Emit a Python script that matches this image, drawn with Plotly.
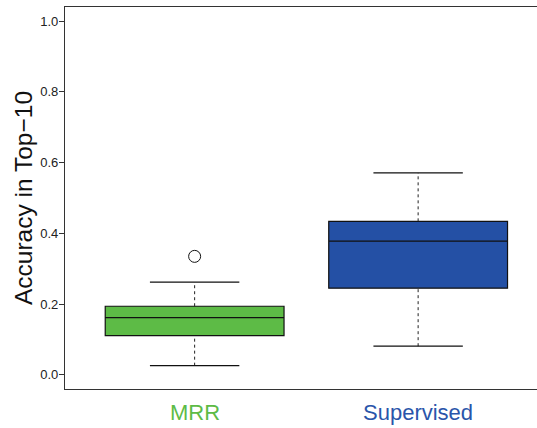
import plotly.graph_objects as go

categories = ["MRR", "Supervised"]
q1 = [0.111, 0.245]
median = [0.162, 0.378]
q3 = [0.194, 0.434]
lower_whisker = [0.026, 0.081]
upper_whisker = [0.262, 0.571]
outliers = [[0.335], []]
fill_colors = ["#5dbb46", "#2450a5"]
label_colors = ["#5dbb46", "#2a55aa"]
y_ticks = [0.0, 0.2, 0.4, 0.6, 0.8, 1.0]

fig = go.Figure()
xs = [1, 2]
box_w = 0.8
cap_w = 0.4

for i, name in enumerate(categories):
    x = xs[i]
    # box (quartiles only; whiskers drawn separately as dotted lines)
    fig.add_trace(go.Box(
        x=[x], q1=[q1[i]], median=[median[i]], q3=[q3[i]],
        lowerfence=[q1[i]], upperfence=[q3[i]],
        width=box_w, fillcolor=fill_colors[i],
        line=dict(color="#111111", width=1.2),
        boxpoints=False, whiskerwidth=0, showlegend=False, hoverinfo="skip",
    ))
    # dotted whiskers
    for a, b in [(q3[i], upper_whisker[i]), (lower_whisker[i], q1[i])]:
        fig.add_trace(go.Scatter(
            x=[x, x], y=[a, b], mode="lines",
            line=dict(color="#222222", width=1, dash="dot"),
            showlegend=False, hoverinfo="skip",
        ))
    # caps
    for v in [upper_whisker[i], lower_whisker[i]]:
        fig.add_trace(go.Scatter(
            x=[x - cap_w / 2, x + cap_w / 2], y=[v, v], mode="lines",
            line=dict(color="#111111", width=1.2),
            showlegend=False, hoverinfo="skip",
        ))
    if outliers[i]:
        fig.add_trace(go.Scatter(
            x=[x] * len(outliers[i]), y=outliers[i], mode="markers",
            marker=dict(symbol="circle-open", size=12, color="#111111", line=dict(width=1)),
            showlegend=False, hoverinfo="skip",
        ))
    fig.add_annotation(
        x=x, y=0, xref="x", yref="paper", yshift=-9, yanchor="top",
        text=name, showarrow=False,
        font=dict(family="Liberation Sans, Arial, sans-serif", size=22, color=label_colors[i]),
    )

fig.update_layout(
    width=537, height=428,
    margin=dict(l=65, r=0, t=7, b=39),
    paper_bgcolor="white", plot_bgcolor="white",
    font=dict(family="Liberation Sans, Arial, sans-serif", color="#222222"),
    boxmode="overlay",
)
fig.update_xaxes(
    range=[0.42, 0.42 + 472 / 223.5],
    showticklabels=False, ticks="", showgrid=False, zeroline=False,
    showline=True, linecolor="#333333", linewidth=1.3, mirror=True,
)
fig.update_yaxes(
    range=[-0.04, 1.04],
    tickvals=y_ticks, ticktext=[f"{v:.1f}" for v in y_ticks],
    ticks="outside", ticklen=5, tickcolor="#333333", tickwidth=1,
    ticklabelstandoff=-2,
    tickfont=dict(size=13, color="#222222"),
    showgrid=False, zeroline=False,
    showline=True, linecolor="#333333", linewidth=1.3,
    title=dict(text="Accuracy in Top\u221210", font=dict(size=24.5, color="#111111"), standoff=0),
)

fig.write_html("out.html", config={"displayModeBar": False},
               post_script="document.body.style.margin='0';")
